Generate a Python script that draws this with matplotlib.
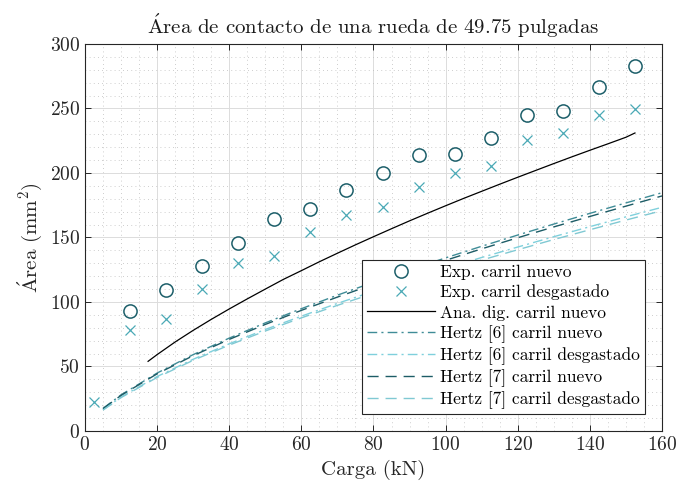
import matplotlib
matplotlib.use("Agg")
import matplotlib.pyplot as plt
from matplotlib.ticker import MultipleLocator

plt.rcParams['font.family'] = ['cmr10', 'DejaVu Serif']
plt.rcParams['mathtext.fontset'] = 'cm'
plt.rcParams['axes.formatter.use_mathtext'] = True

# experimental points
carga_nuevo = [12.5, 22.5, 32.5, 42.5, 52.5, 62.5, 72.5, 82.5, 92.5, 102.5, 112.5, 122.5, 132.5, 142.5, 152.5]
area_nuevo = [93.3, 109.1, 127.9, 146.0, 164.3, 171.8, 186.8, 199.7, 213.7, 215.0, 227.1, 244.7, 248.3, 266.4, 283.2]

carga_desg = [2.5, 12.5, 22.5, 32.5, 42.5, 52.5, 62.5, 72.5, 82.5, 92.5, 102.5, 112.5, 122.5, 132.5, 142.5, 152.5]
area_desg = [22.3, 78.0, 87.1, 109.8, 130.2, 135.7, 154.0, 167.4, 173.9, 189.4, 200.0, 205.7, 225.8, 230.7, 244.7, 249.4]

# digital analysis, new rail
carga_ana = [17.5, 20, 25, 30, 35, 40, 45, 50, 55, 60, 65, 70, 75, 80, 85, 90, 95, 100,
             105, 110, 115, 120, 125, 130, 135, 140, 145, 150, 152.5]
area_ana = [54.0, 59.2, 69.0, 78.0, 86.5, 94.6, 102.4, 110.0, 117.5, 124.3, 131.2, 137.8, 144.3,
            150.6, 156.8, 162.9, 168.8, 174.6, 180.3, 185.8, 191.3, 196.7, 202.0, 207.3, 212.5,
            217.6, 222.6, 227.7, 231.0]

# Hertz curves
carga_hertz = [5, 10, 20, 30, 40, 50, 60, 70, 80, 90, 100, 110, 120, 130, 140, 150, 160]
h6_nuevo = [17.5, 28.0, 44.9, 59.2, 72.0, 83.8, 94.8, 105.3, 115.3, 124.9, 134.2, 143.2, 151.9, 160.4, 168.7, 176.8, 184.7]
h6_desg = [16.4, 26.3, 42.2, 55.6, 67.6, 78.7, 89.0, 98.9, 108.3, 117.3, 126.0, 134.5, 142.6, 150.6, 158.4, 166.0, 173.4]
h7_nuevo = [17.3, 27.6, 44.3, 58.4, 71.0, 82.6, 93.5, 103.8, 113.7, 123.2, 132.3, 141.2, 149.8, 158.2, 166.3, 174.3, 182.2]
h7_desg = [16.2, 25.9, 41.5, 54.8, 66.6, 77.5, 87.7, 97.4, 106.7, 115.5, 124.1, 132.5, 140.5, 148.4, 156.0, 163.5, 170.8]

c_dark = '#1d5f6a'
c_mid = '#4aa9b6'
c_h6n = '#3f8c97'
c_h6d = '#7fd0dc'
c_h7n = '#1d5c66'
c_h7d = '#80c9d3'

fig = plt.figure(figsize=(6.76, 4.87), dpi=100)
ax = fig.add_axes([0.1257, 0.115, 0.8536, 0.7947])

ax.plot(carga_nuevo, area_nuevo, 'o', mfc='none', mec=c_dark, ms=9.5, mew=1.1, label='Exp. carril nuevo')
ax.plot(carga_desg, area_desg, 'x', color=c_mid, ms=7, mew=0.9, label='Exp. carril desgastado')
ax.plot(carga_ana, area_ana, '-', color='black', lw=0.9, label='Ana. dig. carril nuevo')
ax.plot(carga_hertz, h6_nuevo, color=c_h6n, lw=1.0, dashes=(7, 3, 1.5, 3), label='Hertz [6] carril nuevo')
ax.plot(carga_hertz, h6_desg, color=c_h6d, lw=1.0, dashes=(7, 3, 1.5, 3), label='Hertz [6] carril desgastado')
ax.plot(carga_hertz, h7_nuevo, color=c_h7n, lw=1.0, dashes=(8, 5), label='Hertz [7] carril nuevo')
ax.plot(carga_hertz, h7_desg, color=c_h7d, lw=1.0, dashes=(8, 5), label='Hertz [7] carril desgastado')

ax.set_xlim(0, 160)
ax.set_ylim(0, 300)
ax.xaxis.set_major_locator(MultipleLocator(20))
ax.xaxis.set_minor_locator(MultipleLocator(5))
ax.yaxis.set_major_locator(MultipleLocator(50))
ax.yaxis.set_minor_locator(MultipleLocator(10))

ax.set_axisbelow(True)
ax.grid(which='major', color='#dcdcdc', lw=0.7, ls='-')
ax.grid(which='minor', color='#bdbdbd', lw=0.6, ls=(0, (1, 4)))
ax.tick_params(which='major', direction='in', top=True, right=True, length=4.5,
               width=0.7, color='#262626', labelsize=14, labelcolor='#262626')
ax.tick_params(which='minor', length=0, top=True, right=True)
for s in ax.spines.values():
    s.set_color('#262626')
    s.set_linewidth(0.8)

ax.set_title(r'$\acute{\mathrm{A}}$rea de contacto de una rueda de 49.75 pulgadas',
             fontsize=15, color='#1a1a1a', pad=7)
ax.set_xlabel('Carga (kN)', fontsize=15, color='#262626')
ax.set_ylabel(r'$\acute{\mathrm{A}}$rea (mm$^2$)', fontsize=15, color='#262626')

leg = ax.legend(loc='lower right', bbox_to_anchor=(0.9705, 0.044), fontsize=12.5,
                frameon=True, fancybox=False, framealpha=1, edgecolor='#262626',
                handlelength=3.9, labelspacing=0.25, borderpad=0.3, handletextpad=0.3,
                borderaxespad=0)
leg.get_frame().set_linewidth(0.8)

fig.savefig('out.png', dpi=100)
